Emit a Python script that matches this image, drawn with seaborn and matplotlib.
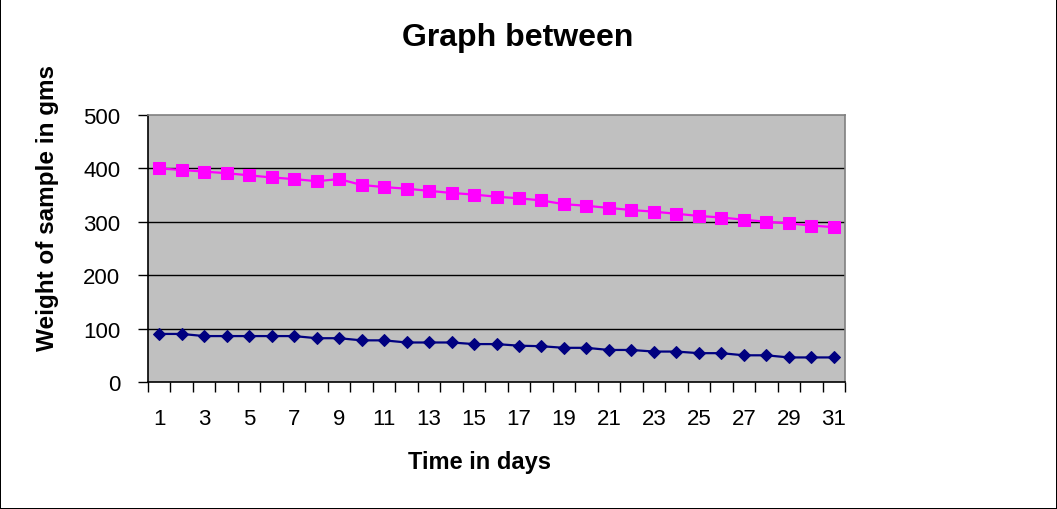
import matplotlib
matplotlib.use("Agg")
import matplotlib.pyplot as plt
import seaborn as sns
import pandas as pd
import numpy as np

# Daily weight readings (grams)
days = list(range(1, 32))
weight_small = [90, 90, 86, 86, 86, 86, 86, 82, 82, 78, 78, 74, 74, 74, 71, 71,
                68, 67, 64, 64, 60, 60, 57, 57, 54, 54, 50, 50, 46, 46, 46]
weight_large = [400, 397, 394, 391, 387, 383, 380, 376, 380, 369, 365, 362, 358,
                354, 351, 347, 344, 340, 333, 330, 326, 322, 319, 315, 311, 308,
                304, 300, 297, 293, 290]
y_ticks = [0, 100, 200, 300, 400, 500]
x_tick_labels = [str(d) for d in days if d % 2 == 1]

sns.set_style("white")
plt.rcParams["font.family"] = ["Liberation Sans", "DejaVu Sans"]
plt.rcParams["text.color"] = "black"
plt.rcParams["xtick.color"] = "black"
plt.rcParams["ytick.color"] = "black"
plt.rcParams["axes.labelcolor"] = "black"

df_small = pd.DataFrame({"day": days, "weight": weight_small})
df_large = pd.DataFrame({"day": days, "weight": weight_large})

fig = plt.figure(figsize=(10.57, 5.10), dpi=100, facecolor="white",
                 edgecolor="black", linewidth=1.2)
ax = fig.add_axes([148 / 1057, 1 - 383 / 510, (845 - 148) / 1057, (383 - 116) / 510])
ax.set_facecolor("#C0C0C0")

sns.lineplot(data=df_small, x="day", y="weight", ax=ax, color="#000080",
             marker="D", markersize=6.5, markeredgecolor="#000080",
             linewidth=1.6, zorder=3)
sns.lineplot(data=df_large, x="day", y="weight", ax=ax, color="#FF00FF",
             marker="s", markersize=9, markeredgecolor="#FF00FF",
             linewidth=1.6, zorder=3)

ax.set_xlim(0.5, 31.5)
ax.set_ylim(0, 500)

# horizontal gridlines
for v in y_ticks[1:-1]:
    ax.axhline(v, color="black", linewidth=1.0, zorder=1)

ax.set_yticks(y_ticks)
ax.set_yticklabels([str(v) for v in y_ticks])
ax.tick_params(axis="y", direction="out", length=7, width=1, color="black",
               pad=13, labelsize=16, left=True, labelcolor="black")

# category boundary ticks underneath, labels at odd days
ax.set_xticks(np.arange(0.5, 32.0, 1.0), minor=True)
ax.set_xticks([d for d in days if d % 2 == 1])
ax.set_xticklabels(x_tick_labels)
ax.tick_params(axis="x", which="minor", direction="out", length=7, width=1,
               color="black", bottom=True)
ax.tick_params(axis="x", which="major", length=0, pad=19, labelsize=16,
               bottom=True, labelcolor="black")

for side in ["top", "right"]:
    ax.spines[side].set_color("#808080")
    ax.spines[side].set_linewidth(1.2)
for side in ["left", "bottom"]:
    ax.spines[side].set_color("black")
    ax.spines[side].set_linewidth(1.2)

ax.set_xlabel("")
ax.set_ylabel("")
fig.text(479 / 1057, 1 - 463 / 510, "Time in days", ha="center", va="center",
         fontsize=17, fontweight="bold", color="black")
fig.text(48 / 1057, 1 - 208 / 510, "Weight of sample in gms", ha="center",
         va="center", rotation=90, fontsize=17.5, fontweight="bold", color="black")
fig.text(518 / 1057, 1 - 38 / 510, "Graph between", ha="center", va="center",
         fontsize=23, fontweight="bold", color="black")

fig.savefig("out.png", dpi=100, facecolor="white", edgecolor="black")
